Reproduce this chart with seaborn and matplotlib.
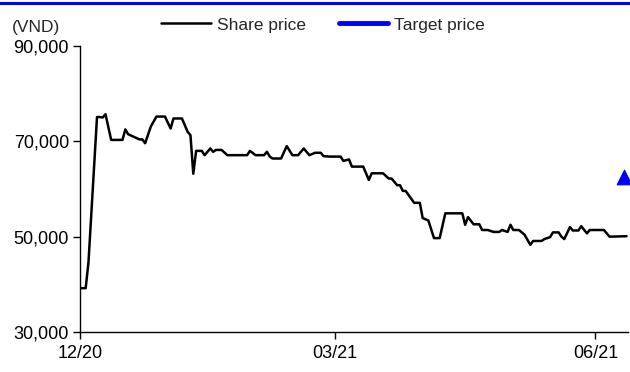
import pandas as pd
import matplotlib
matplotlib.use("Agg")
import matplotlib.pyplot as plt
import matplotlib.dates as mdates
from matplotlib.lines import Line2D
from matplotlib.ticker import FuncFormatter
import seaborn as sns

# Share price (VND)
dates = [
    "2020-12-01", "2020-12-03", "2020-12-04", "2020-12-07", "2020-12-08", "2020-12-09",
    "2020-12-10", "2020-12-12", "2020-12-16", "2020-12-17", "2020-12-18", "2020-12-22",
    "2020-12-23", "2020-12-24", "2020-12-26", "2020-12-28", "2020-12-31",
    "2021-01-02", "2021-01-03", "2021-01-06", "2021-01-08", "2021-01-09", "2021-01-10",
    "2021-01-11", "2021-01-13", "2021-01-14", "2021-01-16", "2021-01-17", "2021-01-18",
    "2021-01-20", "2021-01-22", "2021-01-29", "2021-01-30",
    "2021-02-01", "2021-02-04", "2021-02-05", "2021-02-06", "2021-02-07", "2021-02-10",
    "2021-02-12", "2021-02-14", "2021-02-16", "2021-02-18", "2021-02-20", "2021-02-22",
    "2021-02-24", "2021-02-25", "2021-02-27",
    "2021-03-03", "2021-03-04", "2021-03-06", "2021-03-07", "2021-03-11", "2021-03-13",
    "2021-03-14", "2021-03-18", "2021-03-20", "2021-03-21", "2021-03-23", "2021-03-24",
    "2021-03-25", "2021-03-26", "2021-03-29", "2021-03-31",
    "2021-04-01", "2021-04-03", "2021-04-05", "2021-04-07", "2021-04-09", "2021-04-15",
    "2021-04-16", "2021-04-17", "2021-04-19", "2021-04-21", "2021-04-22", "2021-04-24",
    "2021-04-26", "2021-04-28", "2021-04-29",
    "2021-05-01", "2021-05-02", "2021-05-03", "2021-05-05", "2021-05-07", "2021-05-09",
    "2021-05-10", "2021-05-13", "2021-05-14", "2021-05-16", "2021-05-17", "2021-05-19",
    "2021-05-20", "2021-05-21", "2021-05-23", "2021-05-24", "2021-05-26", "2021-05-27",
    "2021-05-29", "2021-05-30",
    "2021-06-04", "2021-06-06", "2021-06-12",
]
share_price = [
    39200, 39200, 44700, 75100, 75100, 75000, 75700, 70300, 70300, 72500, 71500, 70400,
    70400, 69600, 73100, 75200, 75200,
    72700, 74800, 74800, 72000, 71300, 63200, 68000, 68000, 67100, 68500, 67800, 68200,
    68200, 67100, 67100, 68000,
    67100, 67100, 67800, 66800, 66400, 66400, 69000, 67100, 67100, 68500, 67100, 67600,
    67600, 66900, 66800,
    66800, 65900, 66200, 64700, 64700, 61900, 63300, 63300, 62200, 62200, 60800, 60800,
    59600, 59600, 57100, 57100,
    53900, 53400, 49700, 49700, 54900, 54900, 52500, 54100, 52600, 52600, 51400, 51400,
    51000, 51000, 51400,
    51000, 52500, 51400, 51400, 50400, 48300, 49100, 49100, 49500, 49900, 50900, 50900,
    50000, 49500, 52000, 51300, 51300, 52200, 50700, 51400,
    51400, 50000, 50100,
]
target_date = ["2021-06-11"]
target_price = [62500]

tick_dates = ["2020-12-01", "2021-03-01", "2021-06-01"]
y_ticks = [30000, 50000, 70000, 90000]

df = pd.DataFrame({"Date": pd.to_datetime(dates), "Price": share_price})
tp = pd.DataFrame({"Date": pd.to_datetime(target_date), "Price": target_price})

sns.set_theme(style="white")
plt.rcParams["font.family"] = ["Liberation Sans", "DejaVu Sans"]
plt.rcParams["font.size"] = 13

fig = plt.figure(figsize=(6.3, 3.72), dpi=100)
ax = fig.add_axes([0.127, 0.1075, 0.8698, 0.7688])

sns.lineplot(data=df, x="Date", y="Price", color="black", linewidth=1.8, ax=ax)
sns.scatterplot(data=tp, x="Date", y="Price", marker="^", s=110, color="#0000ff",
                edgecolor="#0000ff", ax=ax, clip_on=False, zorder=5)

ax.set_xlim(pd.Timestamp("2020-12-01"), pd.Timestamp("2021-06-12 12:00"))
ax.set_ylim(30000, 90000)
ax.set_xticks(pd.to_datetime(tick_dates))
ax.xaxis.set_major_formatter(mdates.DateFormatter("%m/%y"))
ax.set_yticks(y_ticks)
ax.yaxis.set_major_formatter(FuncFormatter(lambda v, p: f"{int(v):,}"))
ax.set_xlabel("")
ax.set_ylabel("")

for s in ["top", "right"]:
    ax.spines[s].set_visible(False)
for s in ["left", "bottom"]:
    ax.spines[s].set_color("black")
    ax.spines[s].set_linewidth(1.0)
ax.tick_params(axis="both", which="major", direction="out", length=5, width=1.0,
               color="black", labelsize=13, labelcolor="black", bottom=True, left=True)
ax.tick_params(axis="y", pad=3)
ax.tick_params(axis="x", pad=4)

handles = [Line2D([], [], color="black", linewidth=1.8),
           Line2D([], [], color="#0000ff", linewidth=3.5)]
fig.legend(handles, ["Share price", "Target price"], loc="center",
           bbox_to_anchor=(0.513, 0.933), ncol=2, frameon=False,
           handlelength=2.85, handletextpad=0.35, columnspacing=1.9, fontsize=12.5)

fig.text(0.019, 0.927, "(VND)", va="center", ha="left", fontsize=12.5)

# blue rule across the top
fig.add_artist(Line2D([0, 1], [0.992, 0.992], color="#0000ff", linewidth=2.2,
                      transform=fig.transFigure))

fig.savefig("out.png", dpi=100)
